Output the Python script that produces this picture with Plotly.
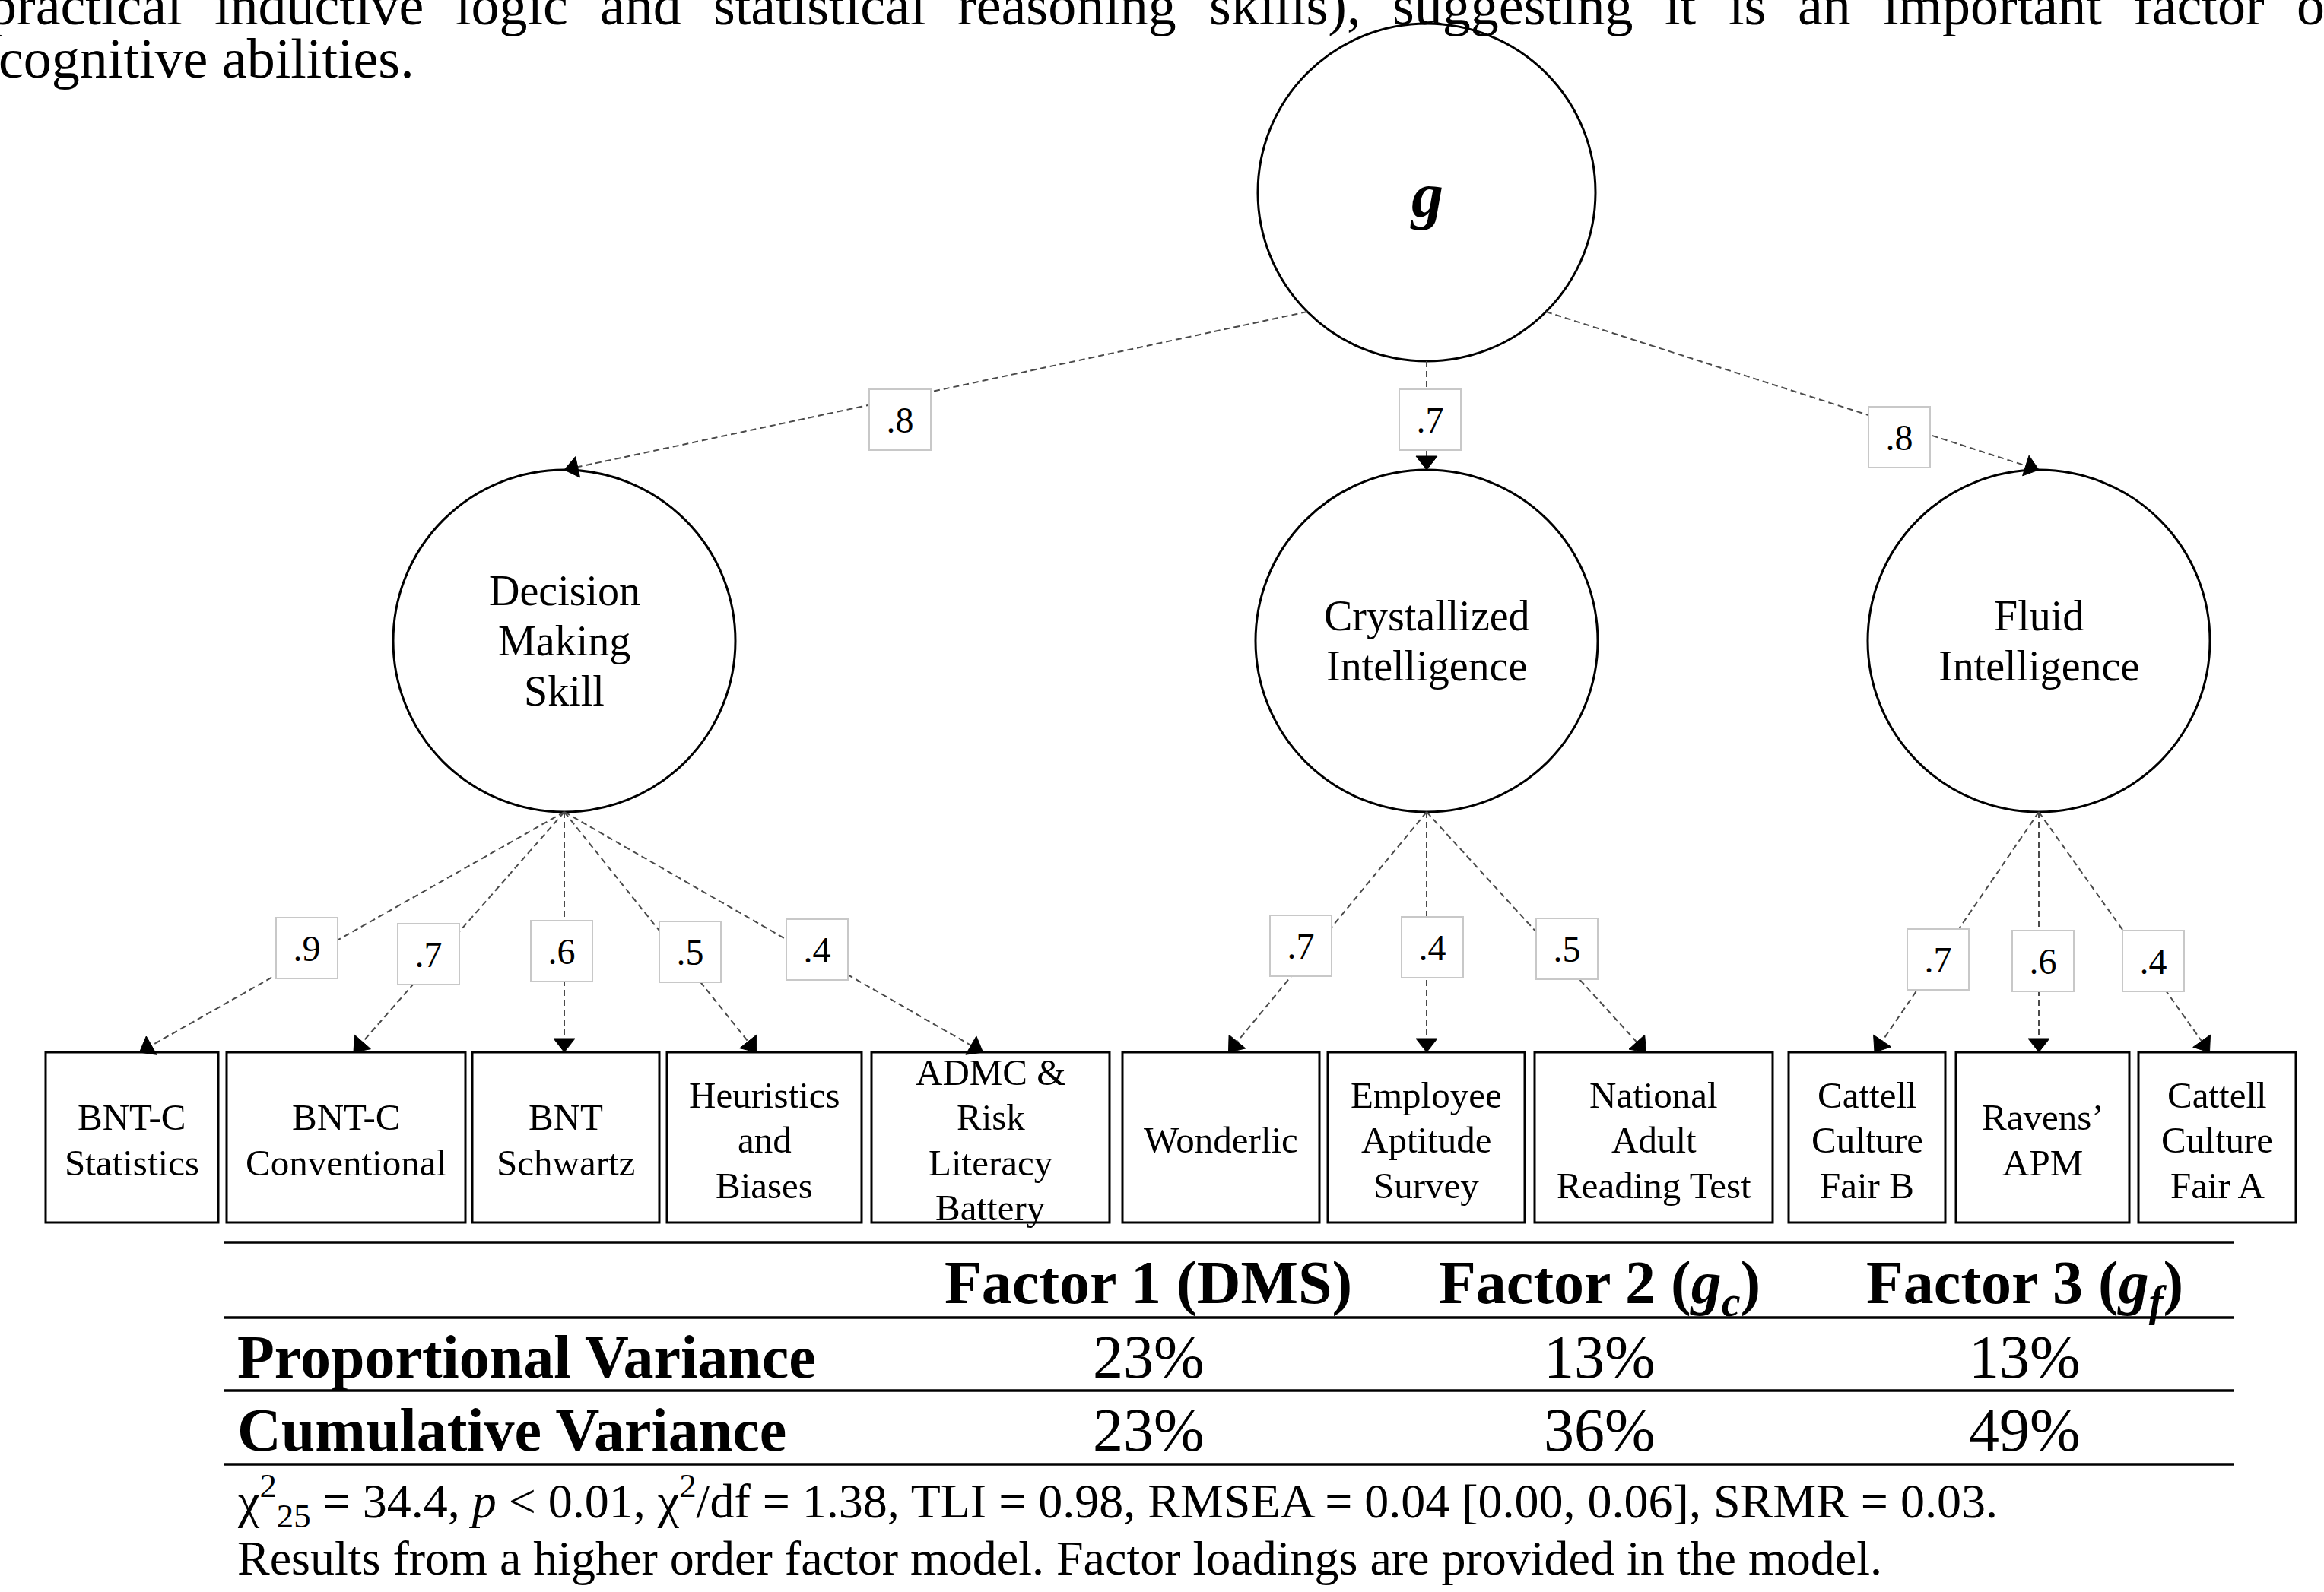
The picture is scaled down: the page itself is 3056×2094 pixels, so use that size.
import math
import plotly.graph_objects as go

# ---------------- data ----------------
g_label = "<b><i>g</i></b>"
factor_labels = [["Decision", "Making", "Skill"],
                 ["Crystallized", "Intelligence"],
                 ["Fluid", "Intelligence"]]
g_loadings = [0.8, 0.7, 0.8]

indicator_labels = [["BNT-C", "Statistics"],
                    ["BNT-C", "Conventional"],
                    ["BNT", "Schwartz"],
                    ["Heuristics", "and", "Biases"],
                    ["ADMC &amp;", "Risk", "Literacy", "Battery"],
                    ["Wonderlic"],
                    ["Employee", "Aptitude", "Survey"],
                    ["National", "Adult", "Reading Test"],
                    ["Cattell", "Culture", "Fair B"],
                    ["Ravens’", "APM"],
                    ["Cattell", "Culture", "Fair A"]]
indicator_factor = [0, 0, 0, 0, 0, 1, 1, 1, 2, 2, 2]
indicator_loadings = [0.9, 0.7, 0.6, 0.5, 0.4, 0.7, 0.4, 0.5, 0.7, 0.6, 0.4]

table_columns = ["Factor 1 (DMS)",
                 "Factor 2 (<i>g</i><sub><i>c</i></sub>)",
                 "Factor 3 (<i>g</i><sub><i>f</i></sub>)"]
table_rows = ["Proportional Variance", "Cumulative Variance"]
proportional_variance = [23, 13, 13]
cumulative_variance = [23, 36, 49]

fit_note = ("χ<sup>2</sup><sub>25</sub> = 34.4, <i>p</i> &lt; 0.01, χ<sup>2</sup>/df = 1.38, "
            "TLI = 0.98, RMSEA = 0.04 [0.00, 0.06], SRMR = 0.03.")
model_note = "Results from a higher order factor model. Factor loadings are provided in the model."

body_line_1 = "practical inductive logic and statistical reasoning skills), suggesting it is an important factor of"
body_line_2 = "cognitive abilities."

# ---------------- layout (pixels) ----------------
W, H = 3056, 2094
FONT = "Liberation Serif"
ASC, DESC = 0.891, 0.216          # serif face vertical metrics (em)

G_CX, G_CY, G_R = 1876, 253, 222
FACTOR_CX = [742, 1876, 2681]
FACTOR_CY, FACTOR_R = 843, 225
G_EDGE_ANGLES = [135, 90, 45]     # where the g paths leave the top circle
G_LABEL_POS = [(1183, 552), (1880, 552), (2497, 575)]

BOX_TOP, BOX_BOTTOM = 1384, 1608
BOX_X = [(60, 287), (298, 612), (621, 867), (877, 1133), (1146, 1459),
         (1476, 1735), (1746, 2005), (2018, 2331),
         (2352, 2558), (2572, 2800), (2812, 3019)]
IND_LABEL_POS = [(403, 1247), (563, 1255), (738, 1251), (907, 1252), (1074, 1249),
                 (1710, 1244), (1883, 1246), (2060, 1248),
                 (2548, 1262), (2686, 1264), (2831, 1264)]

RULE_X = (294, 2937)
RULE_Y = [1634, 1733, 1829, 1926]
COL_X = [1510, 2103, 2662]
ROW_LABEL_X = 312
HEADER_BASE = 1714
ROW_BASE = [1812, 1908]
TABLE_SIZE = 80

NOTE_X = 312
NOTE_BASE = [1996, 2071]
NOTE_SIZE = 64

BODY_SIZE = 74
BODY_X0, BODY_GAP = -15, 42
BODY_BASE = [32, 102]

EDGE_COLOR = "#4a4a4a"
EDGE_DASH = "8px,5px"
HEAD_LEN, HEAD_WID = 18, 28

# advance widths (em) of the regular serif face, for the justified line
ADV = {'a': .444, 'b': .5, 'c': .444, 'd': .5, 'e': .444, 'f': .333, 'g': .5, 'h': .5,
       'i': .278, 'k': .5, 'l': .278, 'm': .778, 'n': .5, 'o': .5, 'p': .5, 'r': .333,
       's': .389, 't': .278, 'u': .5, 'v': .5, ')': .333, ',': .25, '.': .25}

shapes, annotations = [], []


def text(x, baseline, s, size, xanchor="center", yanchor="middle"):
    if yanchor == "middle":
        y = baseline - (ASC - DESC) / 2 * size
    elif yanchor == "top":
        y = baseline - ASC * size
    else:
        y = baseline + DESC * size
    annotations.append(dict(x=x, y=y, xref="x", yref="y", text=s, showarrow=False,
                            xanchor=xanchor, yanchor=yanchor, borderpad=0, borderwidth=0,
                            font=dict(family=FONT, size=size, color="black")))


def loading_box(x, y, value):
    label = f"{value:.1f}".lstrip("0")
    annotations.append(dict(x=x, y=y, xref="x", yref="y", text=label, showarrow=False,
                            xanchor="center", yanchor="middle", width=79, height=78,
                            bgcolor="white", bordercolor="#c8c8c8", borderwidth=2, borderpad=0,
                            font=dict(family=FONT, size=48, color="black")))


def dashed_arrow(x0, y0, x1, y1):
    dx, dy = x1 - x0, y1 - y0
    n = math.hypot(dx, dy)
    ux, uy = dx / n, dy / n
    bx, by = x1 - HEAD_LEN * ux, y1 - HEAD_LEN * uy
    shapes.append(dict(type="line", x0=x0, y0=y0, x1=bx, y1=by, xref="x", yref="y",
                       line=dict(color=EDGE_COLOR, width=2, dash=EDGE_DASH)))
    px, py = -uy * HEAD_WID / 2, ux * HEAD_WID / 2
    shapes.append(dict(type="path", xref="x", yref="y",
                       path=f"M {x1:.1f},{y1:.1f} L {bx + px:.1f},{by + py:.1f} L {bx - px:.1f},{by - py:.1f} Z",
                       fillcolor="black", line=dict(color="black", width=1)))


# ---- body text above the diagram (justified first line) ----
x = BODY_X0
for word in body_line_1.split():
    w = sum(ADV[c] for c in word) * BODY_SIZE
    text(x + w / 2, BODY_BASE[0], word, BODY_SIZE, xanchor="center", yanchor="bottom")
    x += w + BODY_GAP
text(-2 + sum(ADV.get(c, .25) for c in body_line_2) * BODY_SIZE / 2, BODY_BASE[1],
     body_line_2, BODY_SIZE)

# ---- general factor ----
shapes.append(dict(type="circle", xref="x", yref="y", x0=G_CX - G_R, x1=G_CX + G_R,
                   y0=G_CY - G_R, y1=G_CY + G_R, line=dict(color="black", width=3),
                   fillcolor="white", layer="above"))
text(G_CX, 256 + (ASC - DESC) / 2 * 84, g_label, 84)

# ---- first-order factors and their paths from g ----
for k, (cx, lines) in enumerate(zip(FACTOR_CX, factor_labels)):
    shapes.append(dict(type="circle", xref="x", yref="y", x0=cx - FACTOR_R, x1=cx + FACTOR_R,
                       y0=FACTOR_CY - FACTOR_R, y1=FACTOR_CY + FACTOR_R,
                       line=dict(color="black", width=3), fillcolor="white"))
    n = len(lines)
    for i, ln in enumerate(lines):
        mid = FACTOR_CY + (i - (n - 1) / 2) * 66
        text(cx, mid + (ASC - DESC) / 2 * 56, ln, 56)
    a = math.radians(G_EDGE_ANGLES[k])
    sx, sy = G_CX + G_R * math.cos(a), G_CY + G_R * math.sin(a)
    dashed_arrow(sx, sy, cx, FACTOR_CY - FACTOR_R)
    loading_box(*G_LABEL_POS[k], g_loadings[k])

# ---- observed indicators ----
for j, lines in enumerate(indicator_labels):
    x0, x1 = BOX_X[j]
    bc = (x0 + x1) / 2
    parent = FACTOR_CX[indicator_factor[j]]
    tip = bc + max(-10, min(10, parent - bc))
    dashed_arrow(parent, FACTOR_CY + FACTOR_R, tip, BOX_TOP)
    shapes.append(dict(type="rect", xref="x", yref="y", x0=x0, x1=x1, y0=BOX_TOP, y1=BOX_BOTTOM,
                       line=dict(color="black", width=3), fillcolor="rgba(0,0,0,0)"))
    n = len(lines)
    for i, ln in enumerate(lines):
        mid = 1499.5 + (i - (n - 1) / 2) * 59.5
        text(bc, mid + (ASC - DESC) / 2 * 49, ln, 49)
    loading_box(*IND_LABEL_POS[j], indicator_loadings[j])

# ---- variance table ----
for ry in RULE_Y:
    shapes.append(dict(type="line", xref="x", yref="y", x0=RULE_X[0], x1=RULE_X[1], y0=ry, y1=ry,
                       line=dict(color="black", width=3.5)))
for cx, head in zip(COL_X, table_columns):
    text(cx, HEADER_BASE, f"<b>{head}</b>", TABLE_SIZE, yanchor="top")
for base, label, values in zip(ROW_BASE, table_rows, [proportional_variance, cumulative_variance]):
    text(ROW_LABEL_X, base, f"<b>{label}</b>", TABLE_SIZE, xanchor="left", yanchor="top")
    for cx, v in zip(COL_X, values):
        text(cx, base, f"{v}%", TABLE_SIZE, yanchor="top")

text(NOTE_X, NOTE_BASE[0], fit_note, NOTE_SIZE, xanchor="left")
text(NOTE_X, NOTE_BASE[1], model_note, NOTE_SIZE, xanchor="left", yanchor="top")

fig = go.Figure(go.Scatter(x=[0, W], y=[0, H], mode="markers", marker=dict(opacity=0),
                           hoverinfo="skip", showlegend=False))
fig.update_layout(width=W, height=H, margin=dict(l=0, r=0, t=0, b=0),
                  paper_bgcolor="white", plot_bgcolor="white", showlegend=False,
                  xaxis=dict(range=[0, W], visible=False, fixedrange=True),
                  yaxis=dict(range=[H, 0], visible=False, fixedrange=True),
                  shapes=shapes, annotations=annotations)
fig.write_html("out.html", config={"displayModeBar": False})
